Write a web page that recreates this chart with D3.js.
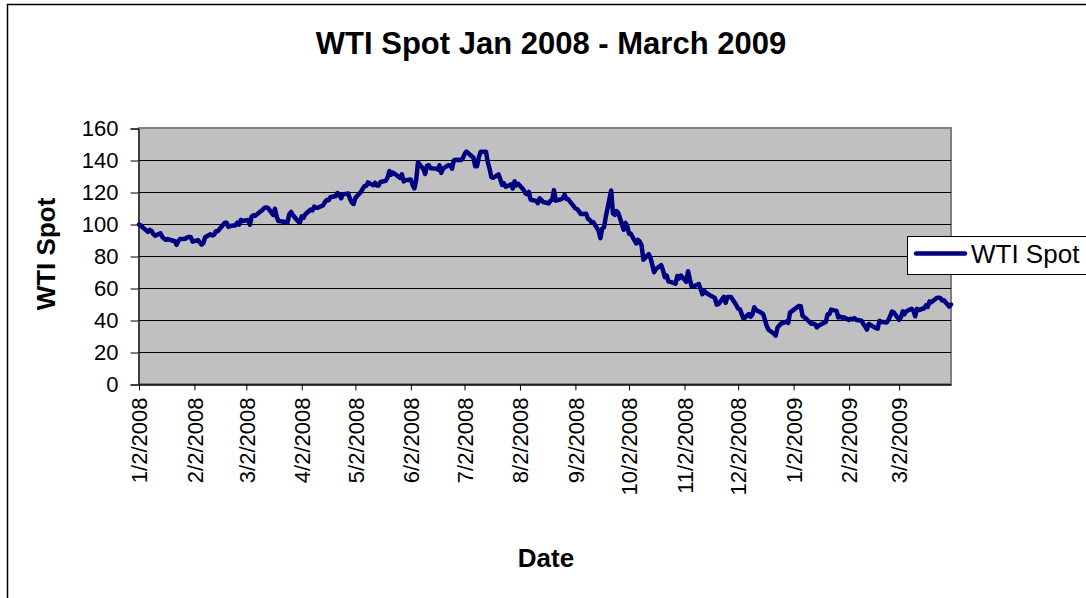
<!DOCTYPE html>
<html>
<head>
<meta charset="utf-8">
<script src="https://cdn.jsdelivr.net/npm/d3@7"></script>
<style>
  body { margin: 0; background: #fff; }
  text { font-family: "Liberation Sans", Arial, sans-serif; }
</style>
</head>
<body>
<div id="chart"></div>
<script>
// WTI Cushing spot, trading days Jan 2008 - Mar 2009
var dates2008 = [
  "2008-01-02","2008-01-03","2008-01-04","2008-01-07","2008-01-08","2008-01-09","2008-01-10","2008-01-11","2008-01-14","2008-01-15",
  "2008-01-16","2008-01-17","2008-01-18","2008-01-22","2008-01-23","2008-01-24","2008-01-25","2008-01-28","2008-01-29","2008-01-30","2008-01-31",
  "2008-02-01","2008-02-04","2008-02-05","2008-02-06","2008-02-07","2008-02-08","2008-02-11","2008-02-12","2008-02-13","2008-02-14",
  "2008-02-15","2008-02-19","2008-02-20","2008-02-21","2008-02-22","2008-02-25","2008-02-26","2008-02-27","2008-02-28","2008-02-29",
  "2008-03-03","2008-03-04","2008-03-05","2008-03-06","2008-03-07","2008-03-10","2008-03-11","2008-03-12","2008-03-13","2008-03-14",
  "2008-03-17","2008-03-18","2008-03-19","2008-03-20","2008-03-24","2008-03-25","2008-03-26","2008-03-27","2008-03-28","2008-03-31",
  "2008-04-01","2008-04-02","2008-04-03","2008-04-04","2008-04-07","2008-04-08","2008-04-09","2008-04-10","2008-04-11","2008-04-14",
  "2008-04-15","2008-04-16","2008-04-17","2008-04-18","2008-04-21","2008-04-22","2008-04-23","2008-04-24","2008-04-25","2008-04-28","2008-04-29","2008-04-30",
  "2008-05-01","2008-05-02","2008-05-05","2008-05-06","2008-05-07","2008-05-08","2008-05-09","2008-05-12","2008-05-13","2008-05-14",
  "2008-05-15","2008-05-16","2008-05-19","2008-05-20","2008-05-21","2008-05-22","2008-05-23","2008-05-27","2008-05-28","2008-05-29","2008-05-30",
  "2008-06-02","2008-06-03","2008-06-04","2008-06-05","2008-06-06","2008-06-09","2008-06-10","2008-06-11","2008-06-12","2008-06-13",
  "2008-06-16","2008-06-17","2008-06-18","2008-06-19","2008-06-20","2008-06-23","2008-06-24","2008-06-25","2008-06-26","2008-06-27","2008-06-30",
  "2008-07-01","2008-07-02","2008-07-03","2008-07-07","2008-07-08","2008-07-09","2008-07-10","2008-07-11","2008-07-14","2008-07-15",
  "2008-07-16","2008-07-17","2008-07-18","2008-07-21","2008-07-22","2008-07-23","2008-07-24","2008-07-25","2008-07-28","2008-07-29","2008-07-30","2008-07-31",
  "2008-08-01","2008-08-04","2008-08-05","2008-08-06","2008-08-07","2008-08-08","2008-08-11","2008-08-12","2008-08-13","2008-08-14",
  "2008-08-15","2008-08-18","2008-08-19","2008-08-20","2008-08-21","2008-08-22","2008-08-25","2008-08-26","2008-08-27","2008-08-28","2008-08-29",
  "2008-09-02","2008-09-03","2008-09-04","2008-09-05","2008-09-08","2008-09-09","2008-09-10","2008-09-11","2008-09-12","2008-09-15",
  "2008-09-16","2008-09-17","2008-09-18","2008-09-19","2008-09-22","2008-09-23","2008-09-24","2008-09-25","2008-09-26","2008-09-29","2008-09-30",
  "2008-10-01","2008-10-02","2008-10-03","2008-10-06","2008-10-07","2008-10-08","2008-10-09","2008-10-10","2008-10-13","2008-10-14",
  "2008-10-15","2008-10-16","2008-10-17","2008-10-20","2008-10-21","2008-10-22","2008-10-23","2008-10-24","2008-10-27","2008-10-28","2008-10-29","2008-10-30","2008-10-31",
  "2008-11-03","2008-11-04","2008-11-05","2008-11-06","2008-11-07","2008-11-10","2008-11-11","2008-11-12","2008-11-13","2008-11-14",
  "2008-11-17","2008-11-18","2008-11-19","2008-11-20","2008-11-21","2008-11-24","2008-11-25","2008-11-26","2008-11-28",
  "2008-12-01","2008-12-02","2008-12-03","2008-12-04","2008-12-05","2008-12-08","2008-12-09","2008-12-10","2008-12-11","2008-12-12",
  "2008-12-15","2008-12-16","2008-12-17","2008-12-18","2008-12-19","2008-12-22","2008-12-23","2008-12-24","2008-12-26","2008-12-29","2008-12-30","2008-12-31"
]
var prices2008 = [
  99.64,99.18,97.91,95.09,96.33,95.67,93.71,92.72,94.22,91.90,
  90.84,90.13,90.57,89.21,86.99,89.43,90.70,90.83,91.66,91.99,91.69,
  88.96,89.98,88.41,87.14,88.11,91.77,93.59,92.78,93.27,95.46,
  95.50,100.74,100.74,98.23,98.81,99.23,100.88,99.64,102.59,101.84,
  102.45,99.52,104.52,105.47,105.15,107.90,108.75,109.92,110.33,110.21,
  105.68,109.42,104.48,101.84,101.22,100.88,105.90,107.58,105.62,101.58,
  100.98,104.83,103.92,106.09,109.09,108.50,110.87,110.14,110.14,111.76,
  113.79,114.93,114.86,116.69,117.48,119.37,118.30,116.06,118.52,119.00,115.63,113.46,
  112.52,116.32,119.97,121.84,123.53,123.69,125.96,124.23,125.80,124.12,
  124.12,126.29,127.05,129.07,133.17,130.81,132.19,128.85,131.03,126.62,127.35,
  127.76,124.31,122.30,127.79,138.54,134.35,131.31,136.38,136.74,134.86,
  134.61,134.01,136.68,131.93,134.62,136.74,136.76,134.55,139.64,140.21,140.00,
  140.97,143.57,145.29,141.37,136.04,136.05,141.65,145.08,145.18,138.74,
  134.60,129.29,128.88,131.04,127.95,124.44,125.49,123.26,124.73,122.19,126.77,124.17,
  125.10,121.41,119.17,118.58,120.02,115.20,114.45,113.01,116.00,115.01,
  113.77,112.87,114.53,114.98,121.18,114.59,115.46,116.27,118.15,115.59,115.46,
  109.71,109.35,107.89,106.23,106.34,103.26,102.58,100.87,101.18,95.71,
  91.15,97.16,97.88,104.55,120.92,106.61,105.73,108.02,106.89,96.37,100.70,
  98.53,93.97,93.88,87.81,90.06,88.95,86.59,77.70,81.19,78.63,
  74.54,69.85,71.85,74.25,70.89,66.75,67.84,64.15,63.22,62.73,67.50,65.96,67.81,
  63.91,70.53,65.30,60.77,61.04,62.41,59.33,56.16,58.24,57.04,
  54.95,54.39,53.62,49.62,49.93,54.50,50.77,54.44,54.43,
  49.28,46.96,46.79,43.67,40.81,43.71,42.07,43.52,47.98,46.28,
  44.51,43.60,40.06,36.22,33.87,31.41,30.28,35.35,37.71,39.02,38.22,44.60
]
var dates2009 = [
  "2009-01-02","2009-01-05","2009-01-06","2009-01-07","2009-01-08","2009-01-09","2009-01-12","2009-01-13","2009-01-14","2009-01-15",
  "2009-01-16","2009-01-20","2009-01-21","2009-01-22","2009-01-23","2009-01-26","2009-01-27","2009-01-28","2009-01-29","2009-01-30",
  "2009-02-02","2009-02-03","2009-02-04","2009-02-05","2009-02-06","2009-02-09","2009-02-10","2009-02-11","2009-02-12","2009-02-13",
  "2009-02-17","2009-02-18","2009-02-19","2009-02-20","2009-02-23","2009-02-24","2009-02-25","2009-02-26","2009-02-27",
  "2009-03-02","2009-03-03","2009-03-04","2009-03-05","2009-03-06","2009-03-09","2009-03-10","2009-03-11","2009-03-12","2009-03-13",
  "2009-03-16","2009-03-17","2009-03-18","2009-03-19","2009-03-20","2009-03-23","2009-03-24","2009-03-25","2009-03-26","2009-03-27","2009-03-30","2009-03-31"
]
var prices2009 = [
  46.34,48.81,48.58,42.63,41.70,40.83,37.59,37.78,37.28,35.40,
  36.51,38.74,43.54,43.55,46.47,45.73,41.58,42.16,41.44,41.68,
  40.08,40.78,40.32,41.17,40.17,39.56,37.51,35.94,33.98,37.51,
  34.93,34.62,39.48,38.94,38.44,39.96,42.50,45.22,44.76,
  40.15,41.65,45.38,43.61,45.52,47.07,45.71,42.33,47.03,46.25,
  47.35,49.16,48.14,51.61,51.06,53.80,53.98,53.77,52.24,52.38,48.41,49.66
]
var tickDates = ["2008-01-02","2008-02-02","2008-03-02","2008-04-02","2008-05-02","2008-06-02","2008-07-02","2008-08-02",
  "2008-09-02","2008-10-02","2008-11-02","2008-12-02","2009-01-02","2009-02-02","2009-03-02"]
var yTicks = [0, 20, 40, 60, 80, 100, 120, 140, 160]

var parse = d3.timeParse("%Y-%m-%d")
var fmt = d3.timeFormat("%-m/%-d/%Y")

var data = dates2008.concat(dates2009).map(function(d, i){
  return { date: parse(d), value: prices2008.concat(prices2009)[i] }
})

var width = 1086, height = 598
var svg = d3.select("#chart").append("svg")
  .attr("width", width).attr("height", height)

// outer chart frame (runs off the right/bottom of the picture)
svg.append("rect")
  .attr("x", 7.5).attr("y", 4.5)
  .attr("width", 1200).attr("height", 700)
  .attr("fill", "#fff").attr("stroke", "#000").attr("stroke-width", 1.5)

var plot = { left: 139, right: 951, top: 128, bottom: 384 }

var x = d3.scaleTime()
  .domain([parse("2008-01-02"), parse("2009-03-31")])
  .range([plot.left, plot.right])
var y = d3.scaleLinear().domain([0, 160]).range([plot.bottom, plot.top])

svg.append("rect")
  .attr("x", plot.left).attr("y", plot.top)
  .attr("width", plot.right - plot.left).attr("height", plot.bottom - plot.top)
  .attr("fill", "#c0c0c0").attr("stroke", "#808080").attr("stroke-width", 2)

// grid lines
svg.append("g")
  .selectAll("line")
  .data(yTicks.filter(function(v){ return v > 0 && v < 160 }))
  .enter().append("line")
  .attr("x1", plot.left).attr("x2", plot.right)
  .attr("y1", function(d){ return Math.round(y(d)) + 0.5 })
  .attr("y2", function(d){ return Math.round(y(d)) + 0.5 })
  .attr("stroke", "#000").attr("stroke-width", 1)

// y axis
var yAxis = svg.append("g")
  .attr("transform", "translate(" + (plot.left - 0.5) + ",0.5)")
  .call(d3.axisLeft(y).tickValues(yTicks).tickSize(8).tickPadding(12))
yAxis.selectAll("text").attr("font-size", "22px").attr("fill", "#000")
  .attr("font-family", "Liberation Sans, Arial, sans-serif")
yAxis.selectAll("line, path").attr("stroke", "#000")

// x axis
var xAxis = svg.append("g")
  .attr("transform", "translate(0," + (plot.bottom + 0.5) + ")")
  .call(d3.axisBottom(x).tickValues(tickDates.map(parse)).tickFormat(fmt).tickSize(6).tickSizeOuter(0))
xAxis.select(".domain").attr("stroke", "#000").attr("stroke-width", 1.5)
xAxis.selectAll("line").attr("stroke", "#000")
xAxis.selectAll("text")
  .attr("font-size", "22px").attr("fill", "#000")
  .attr("font-family", "Liberation Sans, Arial, sans-serif")
  .attr("text-anchor", "end")
  .attr("transform", "rotate(-90)")
  .attr("x", -13).attr("y", 0).attr("dy", "0.35em")

// price line
var line = d3.line()
  .x(function(d){ return x(d.date) })
  .y(function(d){ return y(d.value) })

svg.append("path")
  .datum(data)
  .attr("d", line)
  .attr("fill", "none")
  .attr("stroke", "#000080")
  .attr("stroke-width", 4.5)
  .attr("stroke-linejoin", "round")
  .attr("stroke-linecap", "round")

// title and axis titles
svg.append("text")
  .attr("x", 551).attr("y", 54)
  .attr("text-anchor", "middle")
  .attr("font-size", "31px").attr("font-weight", "bold")
  .text("WTI Spot Jan 2008 - March 2009")

svg.append("text")
  .attr("transform", "translate(55,254) rotate(-90)")
  .attr("text-anchor", "middle")
  .attr("font-size", "26px").attr("font-weight", "bold")
  .text("WTI Spot")

svg.append("text")
  .attr("x", 546).attr("y", 567)
  .attr("text-anchor", "middle")
  .attr("font-size", "26px").attr("font-weight", "bold")
  .text("Date")

// legend
var legend = svg.append("g").attr("transform", "translate(907,236)")
legend.append("rect")
  .attr("x", 0.5).attr("y", 0.5).attr("width", 200).attr("height", 38)
  .attr("fill", "#fff").attr("stroke", "#000").attr("stroke-width", 1)
legend.append("line")
  .attr("x1", 9).attr("x2", 58).attr("y1", 17.5).attr("y2", 17.5)
  .attr("stroke", "#000080").attr("stroke-width", 4.5).attr("stroke-linecap", "round")
legend.append("text")
  .attr("x", 64).attr("y", 27)
  .attr("font-size", "26px")
  .text("WTI Spot")
</script>
</body>
</html>
